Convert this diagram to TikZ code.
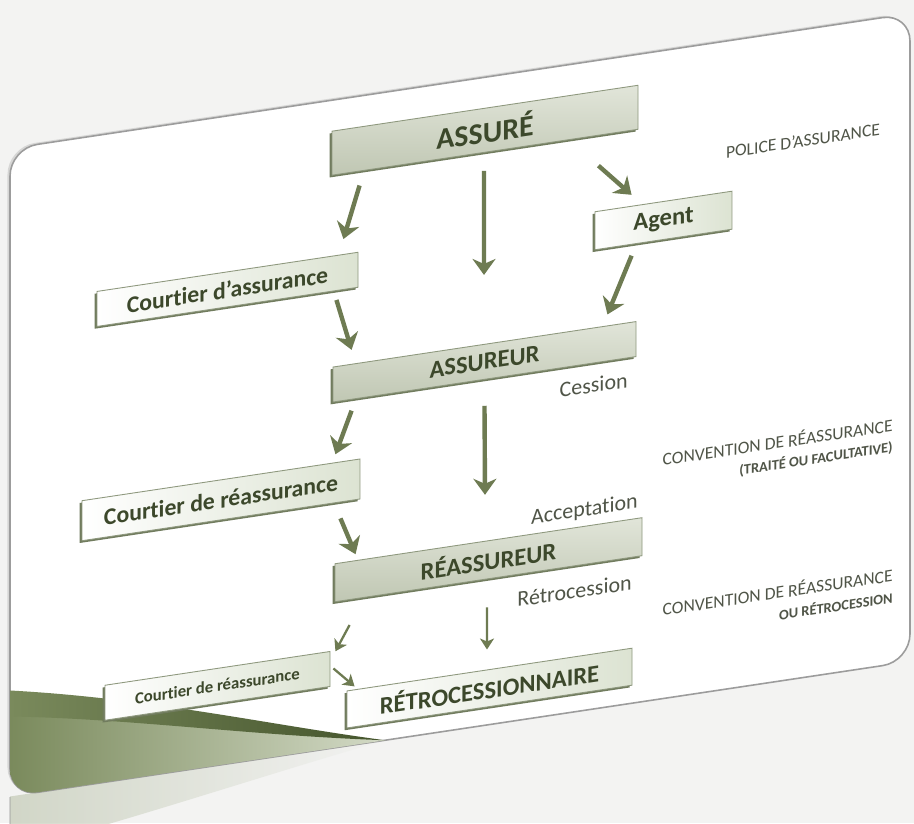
\documentclass[tikz,border=0pt]{standalone}
\usepackage{fontspec}
\setmainfont{Carlito}[Ligatures=NoCommon]
\usepackage{tikz}
\usetikzlibrary{arrows.meta,shadows,calc}
\definecolor{SlideBack}{HTML}{F3F3F2}
\definecolor{CardLine}{HTML}{9C9C9C}
\definecolor{BoxText}{HTML}{3C482B}
\definecolor{BoxLine}{HTML}{8E987E}
\definecolor{BoxEdge}{HTML}{717C5E}
\definecolor{BoxTop}{HTML}{E1E5D9}
\definecolor{BoxBottom}{HTML}{C0C7B3}
\definecolor{PaleRight}{HTML}{DCE3D2}
\definecolor{FlowGreen}{HTML}{6E7B52}
\definecolor{NoteGray}{HTML}{505548}
\definecolor{SwooshDark}{HTML}{44542C}
\definecolor{SwooshMid}{HTML}{7A8A5C}
\definecolor{SwooshPale}{HTML}{D3DAC6}

\tikzset{
  mainbox/.style={draw=BoxLine, line width=0.5pt, top color=BoxTop, bottom color=BoxBottom,
    general shadow={fill=BoxEdge, shadow xshift=-1.3pt, shadow yshift=-1.3pt},
    inner sep=0pt, text=BoxText},
  palebox/.style={draw=BoxLine, line width=0.5pt, left color=white, right color=PaleRight,
    general shadow={fill=BoxEdge, shadow xshift=-1.3pt, shadow yshift=-1.3pt},
    inner sep=0pt, text=BoxText},
  flow/.style={draw=FlowGreen, line width=2.5pt, -{Stealth[width=0.46cm,length=0.32cm,inset=0.10cm]}},
  thinflow/.style={draw=FlowGreen, line width=1.3pt, -{Stealth[width=0.28cm,length=0.22cm,inset=0.06cm]}},
  note/.style={text=NoteGray, inner sep=0pt}
}

\begin{document}
\begin{tikzpicture}[x=1cm,y=1cm]
\path[use as bounding box, fill=SlideBack] (0,0) rectangle (18.28,16.46);
\begin{scope}[yslant=0.15, transform shape]
\shade[left color=SwooshMid!45!white, right color=SlideBack, opacity=0.7] (0.20,0.50) -- (7.70,0.50) .. controls (5.2,0.15) and (2.5,-0.35) .. (0.20,-0.60) -- cycle;
\draw[CardLine, opacity=0.4, line width=0.8pt] (0.20,0.50) -- (0.20,-0.40);
\path[draw=CardLine, line width=0.9pt, fill=white, rounded corners=0.55cm,
  drop shadow={opacity=0.25, shadow xshift=-0.05cm, shadow yshift=0.03cm}] (0.20,0.50) rectangle (18.20,13.46);
\begin{scope}
\clip[rounded corners=0.55cm] (0.20,0.50) rectangle (18.20,13.46);
\shade[left color=SwooshMid, right color=SwooshPale] (0.20,2.20) .. controls (2.6,1.75) and (5.0,1.05) .. (7.70,0.50) -- (0.20,0.50) -- cycle;
\shade[left color=SwooshMid, right color=SwooshDark] (0.20,2.62) .. controls (3.0,2.05) and (5.4,1.15) .. (7.70,0.50) .. controls (5.0,1.00) and (2.6,1.70) .. (0.20,2.10) -- cycle;
\end{scope}

\node[mainbox, minimum width=6.12cm, minimum height=0.88cm, font=\fontsize{17}{20}\selectfont\bfseries] (assure) at (9.70,12.40) {ASSURÉ};
\node[palebox, minimum width=2.74cm, minimum height=0.76cm, font=\fontsize{14}{16}\selectfont\bfseries] (agent) at (13.27,10.06) {Agent};
\node[palebox, minimum width=5.22cm, minimum height=0.70cm, font=\fontsize{13.5}{16}\selectfont\bfseries] (cass) at (4.55,9.99) {Courtier d’assurance};
\node[mainbox, minimum width=6.06cm, minimum height=0.70cm, font=\fontsize{14}{16}\selectfont\bfseries] (assureur) at (9.69,7.77) {ASSUREUR};
\node[palebox, minimum width=5.56cm, minimum height=0.80cm, font=\fontsize{13.5}{16}\selectfont\bfseries] (crea) at (4.42,5.80) {Courtier de réassurance};
\node[mainbox, minimum width=6.14cm, minimum height=0.76cm, font=\fontsize{14}{16}\selectfont\bfseries] (reassureur) at (9.77,3.80) {RÉASSUREUR};
\node[palebox, minimum width=4.50cm, minimum height=0.70cm, font=\fontsize{9.5}{11}\selectfont\bfseries] (cretro) at (4.35,2.09) {Courtier de réassurance};
\node[palebox, minimum width=5.70cm, minimum height=0.74cm, font=\fontsize{14}{16}\selectfont\bfseries] (retro) at (9.79,1.23) {RÉTROCESSIONNAIRE};

\node[note, anchor=east, font=\fontsize{12.5}{14}\selectfont] (cession) at (12.56,6.98) {Cession};
\node[note, anchor=east, font=\fontsize{12.5}{14}\selectfont] (accept) at (12.76,4.50) {Acceptation};
\node[note, anchor=east, font=\fontsize{12.5}{14}\selectfont] (retrocession) at (12.64,2.92) {Rétrocession};

\node[note, font=\fontsize{10}{12}\selectfont] (police) at (16.06,11.24) {POLICE D’ASSURANCE};
\node[note, anchor=east, font=\fontsize{10}{12}\selectfont] (conva) at (17.86,5.30) {CONVENTION DE RÉASSURANCE};
\node[note, anchor=east, font=\fontsize{8.2}{10}\selectfont\bfseries] (convb) at (17.86,4.84) {(TRAITÉ OU FACULTATIVE)};
\node[note, anchor=east, font=\fontsize{10}{12}\selectfont] (convc) at (17.86,2.30) {CONVENTION DE RÉASSURANCE};
\node[note, anchor=east, font=\fontsize{8.2}{10}\selectfont\bfseries] (convd) at (17.86,1.84) {OU RÉTROCESSION};

\draw[flow] ($(assure.south west)+(0.56,-0.28)$) -- ($(cass.north east)+(-0.30,0.30)$);
\draw[flow] ($(assure.south)+(-0.02,-0.36)$) -- ($(assureur.north)+(-0.01,1.38)$);
\draw[flow] ($(assure.south east)+(-0.80,-0.60)$) -- ($(agent.north west)+(0.74,0.22)$);
\draw[flow] ($(agent.south west)+(0.74,-0.22)$) -- ($(assureur.north east)+(-0.58,0.22)$);
\draw[flow] ($(cass.south east)+(-0.44,-0.18)$) -- ($(assureur.north west)+(0.38,0.28)$);
\draw[flow] ($(assureur.south)+(0,-0.52)$) -- ($(reassureur.north)+(-0.07,0.92)$);
\draw[flow] ($(assureur.south west)+(0.38,-0.22)$) -- ($(crea.north east)+(-0.50,0.16)$);
\draw[flow] ($(crea.south east)+(-0.40,-0.32)$) -- ($(reassureur.north west)+(0.42,0.12)$);
\draw[thinflow] ($(reassureur.south)+(-0.03,-0.56)$) -- ($(retro.north)+(-0.05,0.40)$);
\draw[thinflow] ($(reassureur.south west)+(0.30,-0.50)$) -- ($(cretro.north east)+(0.10,-0.02)$);
\draw[thinflow] ($(cretro.east)+(0.06,0)$) -- ($(retro.north west)+(0.16,0.06)$);
\end{scope}
\end{tikzpicture}
\end{document}
